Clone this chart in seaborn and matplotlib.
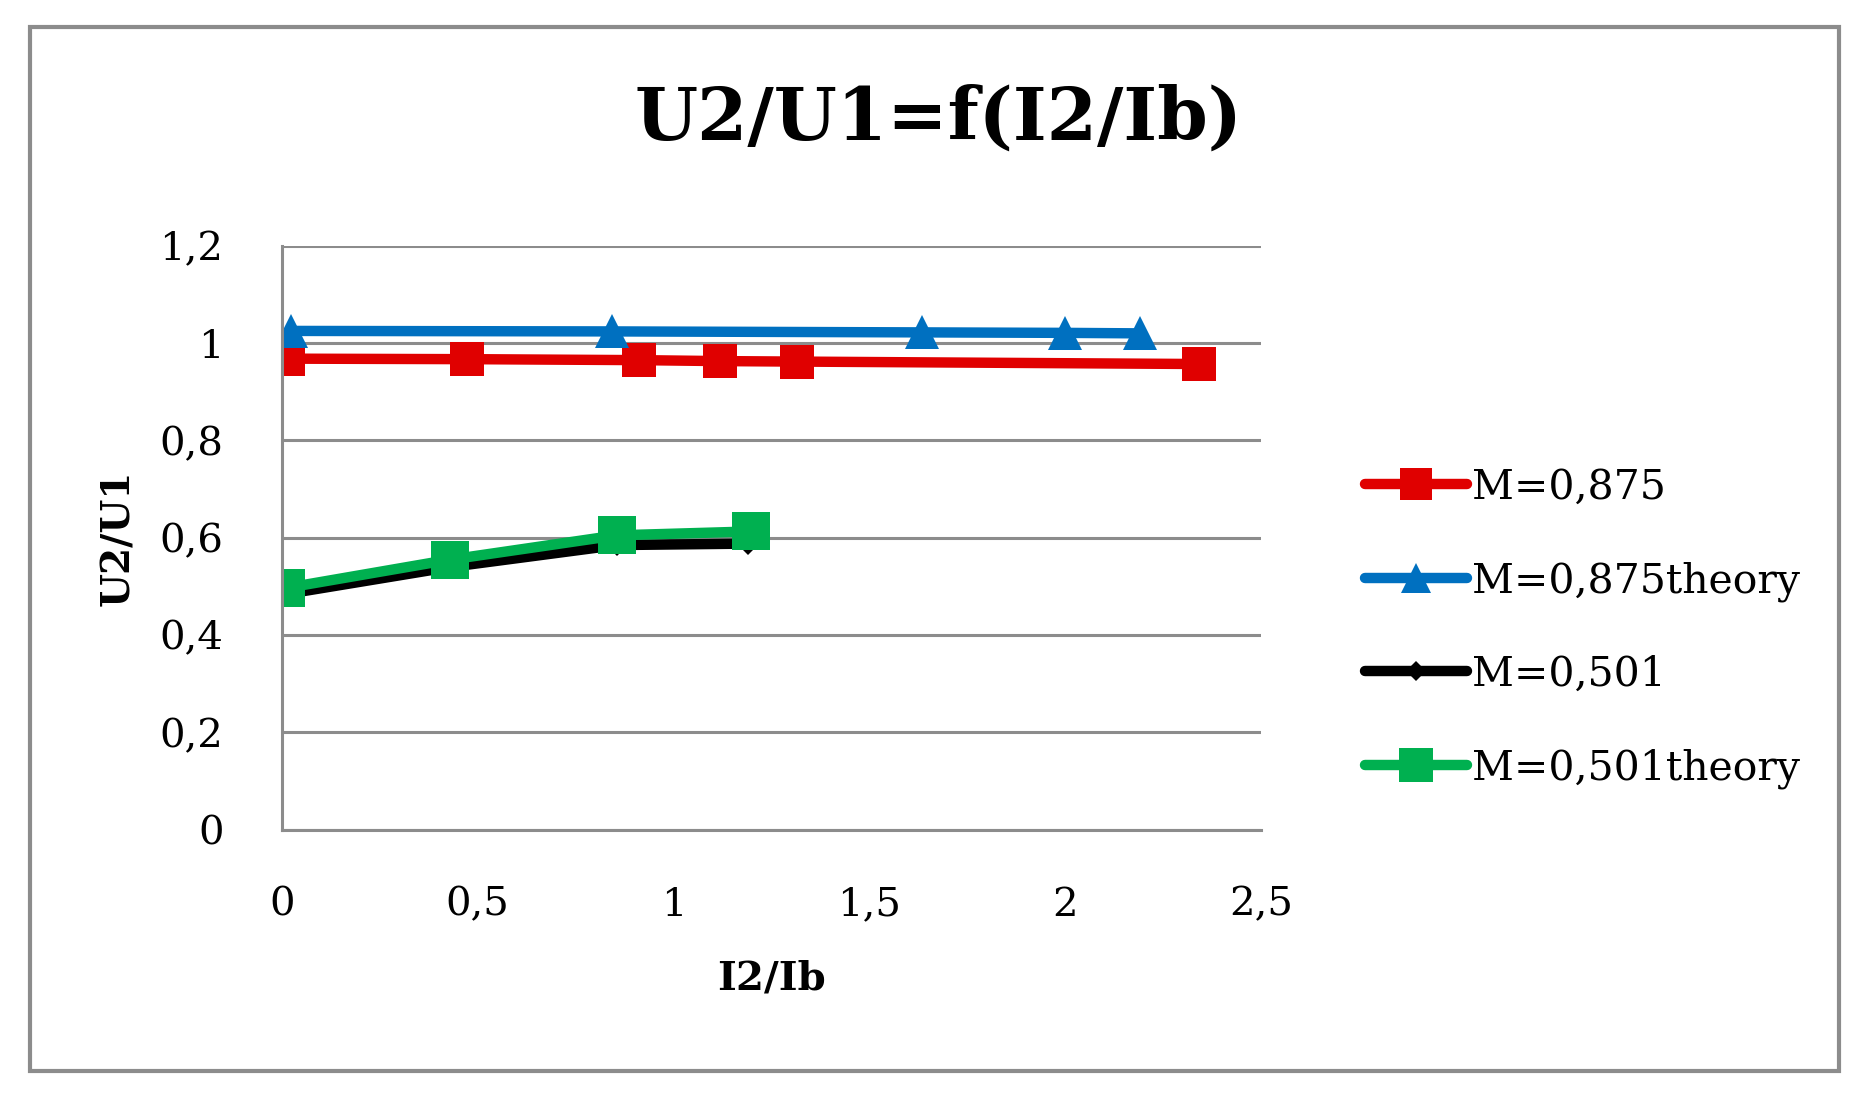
import numpy as np
import pandas as pd
import matplotlib
matplotlib.use("Agg")
import matplotlib.pyplot as plt
import seaborn as sns
from matplotlib.patches import Rectangle
from matplotlib.ticker import FuncFormatter

# data
x_m875 = [0.015, 0.472, 0.911, 1.119, 1.315, 2.34]
y_m875 = [0.968, 0.967, 0.965, 0.963, 0.962, 0.957]

x_m875_th = [0.024, 0.843, 1.634, 2.0, 2.19]
y_m875_th = [1.025, 1.024, 1.022, 1.021, 1.020]

x_m501 = [0.015, 0.43, 0.855, 1.19]
y_m501 = [0.485, 0.54, 0.585, 0.588]

x_m501_th = [0.012, 0.429, 0.855, 1.197]
y_m501_th = [0.497, 0.555, 0.605, 0.613]

labels = ["M=0,875", "M=0,875theory", "M=0,501", "M=0,501theory"]
colors = ["#e00000", "#0070c0", "#000000", "#00b050"]

df = pd.concat([
    pd.DataFrame({"x": x_m875, "y": y_m875, "series": labels[0]}),
    pd.DataFrame({"x": x_m875_th, "y": y_m875_th, "series": labels[1]}),
    pd.DataFrame({"x": x_m501, "y": y_m501, "series": labels[2]}),
    pd.DataFrame({"x": x_m501_th, "y": y_m501_th, "series": labels[3]}),
])

sns.set_style("white")
plt.rcParams["font.family"] = ["DejaVu Serif"]
plt.rcParams["text.color"] = "black"
plt.rcParams["axes.labelcolor"] = "black"

fig = plt.figure(figsize=(18.66, 11.02), dpi=100)
ax = fig.add_axes([0.151, 0.247, 0.525, 0.530])

markers = ["s", "^", "D", "s"]
msizes = [25, 24, 11, 27]
for lab, col, mk, ms in zip(labels, colors, markers, msizes):
    sub = df[df.series == lab]
    sns.lineplot(data=sub, x="x", y="y", ax=ax, color=col, marker=mk,
                 markersize=ms, markeredgewidth=0, lw=7.5, label=lab,
                 estimator=None, sort=False)

grid_col = "#8c8c8c"
ax.set_xlim(0, 2.5)
ax.set_ylim(0, 1.2)
ax.set_xticks(np.arange(0, 2.51, 0.5))
ax.set_yticks(np.arange(0, 1.21, 0.2))
fmt = FuncFormatter(lambda v, p: ("%g" % round(v, 2)).replace(".", ","))
ax.xaxis.set_major_formatter(fmt)
ax.yaxis.set_major_formatter(fmt)
ax.yaxis.grid(True, color=grid_col, lw=2.2)
ax.set_axisbelow(True)
for s in ["top", "right"]:
    ax.spines[s].set_visible(False)
for s in ["left", "bottom"]:
    ax.spines[s].set_color(grid_col)
    ax.spines[s].set_linewidth(2.2)
ax.tick_params(axis="both", direction="out", length=12, width=2.2,
               color=grid_col, labelsize=29, labelcolor="black")
ax.tick_params(axis="y", pad=30)
ax.tick_params(axis="x", pad=29)

ax.set_xlabel("I2/Ib", fontsize=29, fontweight="bold", labelpad=26)
ax.set_ylabel("U2/U1", fontsize=28, fontweight="bold", labelpad=16)

fig.text(0.503, 0.892, "U2/U1=f(I2/Ib)", fontsize=52, fontweight="bold",
         ha="center", va="center", color="black")

ax.legend(loc="center left", bbox_to_anchor=(0.7315, 0.43),
          bbox_transform=fig.transFigure, frameon=False, fontsize=29.5,
          borderpad=0, borderaxespad=0, handlelength=2.5,
          handletextpad=0.12, labelspacing=1.3, markerscale=0.9)

fig.patches.append(Rectangle((0.0161, 0.0281), 0.9694, 0.9474,
                             transform=fig.transFigure, fill=False,
                             edgecolor=grid_col, lw=3))

fig.savefig("out.png", dpi=100, facecolor="white")
